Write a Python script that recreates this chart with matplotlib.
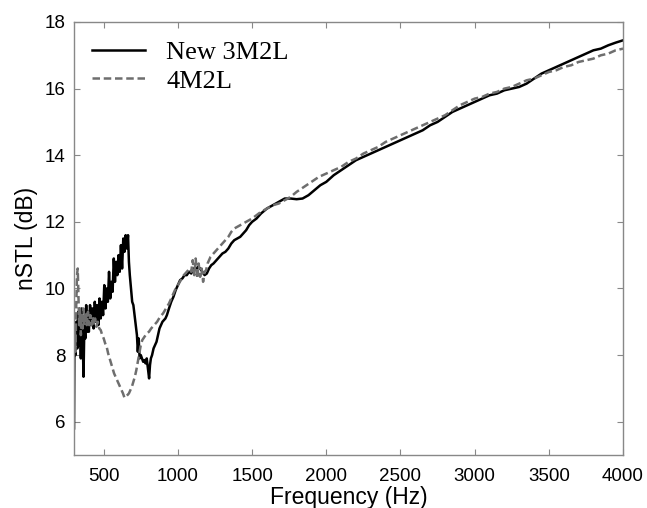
import numpy as np
import matplotlib
matplotlib.use("Agg")
import matplotlib.pyplot as plt

# (Hz, dB)
freq_new = [300, 303, 310, 316, 322, 328, 334, 340, 346, 352, 358, 364, 370, 376,
            382, 388, 394, 400, 408, 416, 424, 432, 440, 448, 456, 464, 472, 480,
            488, 496, 504, 512, 520, 528, 536, 544, 552, 560, 568, 576, 584, 592,
            600, 608, 616, 624, 632, 640, 648, 656, 664, 670, 676, 684, 692, 700,
            708, 716, 724, 730, 736, 742, 750, 758, 766, 774, 782, 790, 798, 806,
            812, 818, 826, 836, 846, 856, 866, 876, 886, 896, 906, 916, 926, 940,
            955, 970, 985, 1000, 1015, 1030, 1045, 1060, 1075, 1090, 1105, 1120,
            1135, 1150, 1165, 1180, 1195, 1210, 1225, 1240, 1260, 1280, 1300, 1320,
            1340, 1360, 1380, 1400, 1420, 1440, 1460, 1480, 1500, 1530, 1560, 1600,
            1640, 1680, 1720, 1760, 1800, 1840, 1880, 1920, 1960, 2000, 2050, 2100,
            2150, 2200, 2250, 2300, 2350, 2400, 2450, 2500, 2550, 2600, 2650, 2700,
            2750, 2800, 2850, 2900, 2950, 3000, 3050, 3100, 3150, 3200, 3250, 3300,
            3350, 3400, 3450, 3500, 3550, 3600, 3650, 3700, 3750, 3800, 3850, 3900,
            3950, 4000]
stl_new = [5.8, 8.6, 8.0, 9.0, 8.2, 9.3, 8.3, 9.1, 7.9, 9.4, 8.6, 7.35, 9.0, 8.5,
           9.5, 8.7, 9.3, 8.7, 9.5, 8.9, 9.4, 8.8, 9.6, 9.0, 9.5, 8.9, 9.7, 9.1,
           9.6, 9.2, 10.1, 9.4, 10.0, 9.6, 10.5, 9.7, 10.2, 9.9, 10.9, 10.2, 10.8, 10.4,
           11.0, 10.5, 11.3, 10.6, 11.5, 11.1, 11.6, 11.2, 11.6, 10.8, 10.4, 10.0, 9.6, 9.5,
           9.2, 8.9, 8.6, 8.1, 8.5, 7.9, 8.0, 7.9, 7.8, 7.85, 7.75, 7.9, 7.6, 7.3,
           7.7, 7.9, 8.0, 8.2, 8.3, 8.4, 8.6, 8.8, 8.9, 9.0, 9.05, 9.1, 9.2, 9.4,
           9.6, 9.75, 9.95, 10.1, 10.25, 10.3, 10.4, 10.4, 10.5, 10.45, 10.6, 10.55,
           10.65, 10.6, 10.5, 10.4, 10.45, 10.6, 10.7, 10.75, 10.85, 10.95, 11.05, 11.1,
           11.2, 11.35, 11.45, 11.5, 11.55, 11.65, 11.75, 11.9, 12.0, 12.1, 12.25, 12.4,
           12.5, 12.6, 12.7, 12.7, 12.68, 12.7, 12.8, 12.95, 13.1, 13.2, 13.4, 13.55,
           13.7, 13.85, 13.95, 14.05, 14.15, 14.25, 14.35, 14.45, 14.55, 14.65, 14.75, 14.9,
           15.0, 15.15, 15.3, 15.4, 15.5, 15.6, 15.7, 15.8, 15.85, 15.95, 16.0, 16.05,
           16.15, 16.3, 16.45, 16.55, 16.65, 16.75, 16.85, 16.95, 17.05, 17.15, 17.2, 17.3,
           17.38, 17.45]

freq_old = [300, 305, 310, 315, 320, 325, 330, 335, 340, 346, 352, 358, 364, 370,
            378, 386, 394, 402, 410, 418, 426, 434, 442, 450, 460, 470, 480, 490,
            500, 510, 520, 530, 540, 550, 560, 570, 580, 590, 600, 610, 620, 630,
            640, 650, 660, 670, 680, 690, 700, 710, 720, 730, 740, 750, 760, 775,
            790, 805, 820, 840, 860, 880, 900, 920, 940, 960, 980, 1000, 1020, 1040,
            1060, 1080, 1090, 1100, 1110, 1120, 1130, 1140, 1150, 1160, 1170, 1180,
            1190, 1200, 1220, 1240, 1260, 1280, 1300, 1320, 1340, 1360, 1380, 1400,
            1420, 1440, 1460, 1480, 1500, 1530, 1560, 1600, 1640, 1680, 1720, 1760,
            1800, 1850, 1900, 1950, 2000, 2050, 2100, 2150, 2200, 2250, 2300, 2350,
            2400, 2450, 2500, 2550, 2600, 2650, 2700, 2750, 2800, 2850, 2900, 2950,
            3000, 3050, 3100, 3150, 3200, 3250, 3300, 3350, 3400, 3450, 3500, 3550,
            3600, 3650, 3700, 3750, 3800, 3850, 3900, 3950, 4000]
stl_old = [8.3, 8.9, 8.1, 9.5, 10.4, 10.6, 9.8, 8.9, 9.4, 8.6, 9.2, 8.8, 9.4, 8.9,
           9.3, 8.9, 9.3, 8.9, 9.2, 8.9, 9.15, 8.9, 9.1, 8.85, 9.0, 8.8, 8.75, 8.6,
           8.5, 8.35, 8.25, 8.05, 7.9, 7.75, 7.6, 7.45, 7.35, 7.25, 7.15, 7.05, 6.95, 6.85,
           6.72, 6.75, 6.8, 6.85, 6.95, 7.05, 7.2, 7.35, 7.55, 7.8, 8.05, 8.3, 8.45, 8.55,
           8.65, 8.7, 8.8, 8.9, 9.0, 9.15, 9.25, 9.4, 9.55, 9.75, 9.95, 10.1, 10.25, 10.4,
           10.5, 10.6, 10.5, 10.85, 10.4, 10.9, 10.3, 10.75, 10.35, 10.6, 10.2, 10.5,
           10.55, 10.75, 10.95, 11.05, 11.15, 11.25, 11.35, 11.45, 11.55, 11.7, 11.8, 11.85,
           11.9, 11.95, 12.0, 12.05, 12.1, 12.2, 12.3, 12.4, 12.5, 12.55, 12.65, 12.75,
           12.9, 13.05, 13.2, 13.35, 13.45, 13.55, 13.65, 13.8, 13.9, 14.05, 14.15, 14.25,
           14.4, 14.5, 14.6, 14.7, 14.8, 14.9, 15.0, 15.1, 15.2, 15.35, 15.5, 15.6,
           15.7, 15.75, 15.85, 15.9, 16.0, 16.05, 16.15, 16.25, 16.3, 16.4, 16.5, 16.55,
           16.65, 16.7, 16.8, 16.85, 16.9, 17.0, 17.05, 17.15, 17.2]

labels = ["New 3M2L", "4M2L"]
x_ticks = [500, 1000, 1500, 2000, 2500, 3000, 3500, 4000]
y_ticks = [6, 8, 10, 12, 14, 16, 18]

plt.rcParams["font.family"] = ["Liberation Sans", "DejaVu Sans"]

fig = plt.figure(figsize=(6.47, 5.08), dpi=100)
ax = fig.add_axes([0.1144, 0.1043, 0.8486, 0.8524])

ax.plot(freq_new, stl_new, color="black", lw=1.8, label=labels[0])
ax.plot(freq_old, stl_old, color="#6e6e6e", lw=1.8, ls=(0, (3, 1.5)),
        label=labels[1])

ax.set_xlim(300, 4000)
ax.set_ylim(5, 18)
ax.set_xticks(x_ticks)
ax.set_yticks(y_ticks)
ax.tick_params(direction="in", length=4, width=0.8, color="#888888",
               labelsize=13.5, top=True, right=True)
ax.tick_params(axis="x", pad=9)
ax.tick_params(axis="y", pad=6)
for sp in ax.spines.values():
    sp.set_color("#888888")
    sp.set_linewidth(1.0)

ax.set_xlabel("Frequency (Hz)", fontsize=16.5, labelpad=1)
ax.set_ylabel("nSTL (dB)", fontsize=16.5, labelpad=5)

ax.legend(loc="upper left", frameon=False, handlelength=2.0,
          prop={"family": "Liberation Serif", "size": 19},
          bbox_to_anchor=(0.0, 1.0), borderaxespad=0.3, labelspacing=0.2,
          handletextpad=0.8)

fig.savefig("out.png", dpi=100)
